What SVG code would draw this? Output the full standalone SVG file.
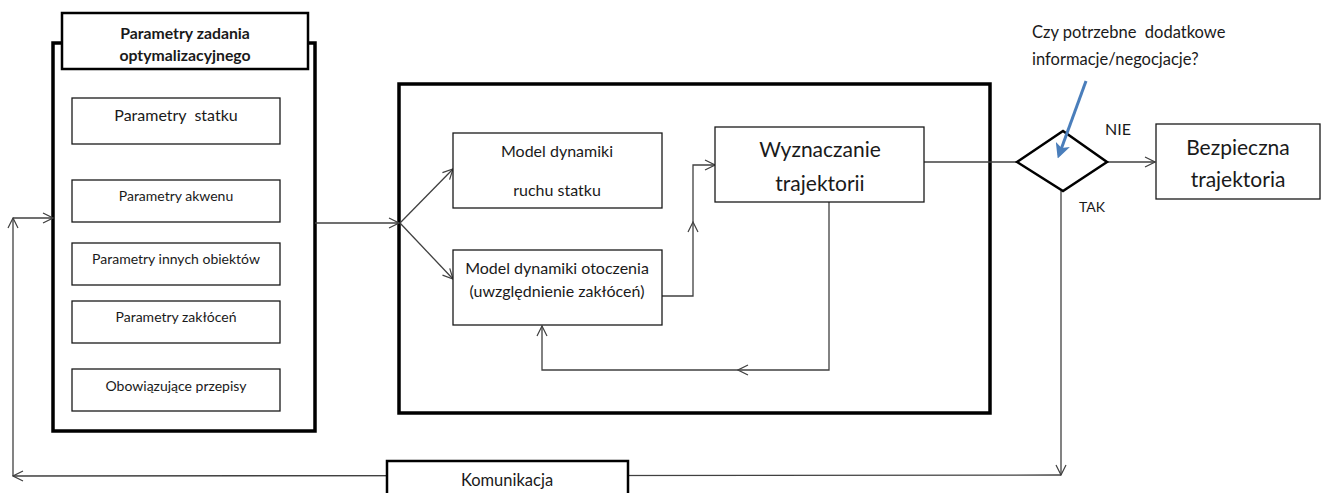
<svg xmlns="http://www.w3.org/2000/svg" width="1321" height="493" viewBox="0 0 1321 493">
<style>
text{font-family:Lato,"Open Sans","Liberation Sans",sans-serif;fill:#1a1a1a;text-anchor:middle;dominant-baseline:central}
.box{fill:#fff;stroke:#1a1a1a;stroke-width:1.3}
.thick{fill:#fff;stroke:#000;stroke-width:3.5}
.mid{fill:#fff;stroke:#000;stroke-width:2.5}
.ln{fill:none;stroke:#404040;stroke-width:1.3}
.s{font-size:14px}
</style>
<defs>
<marker id="ah" viewBox="0 0 12 12" refX="11" refY="6" markerWidth="12" markerHeight="12" markerUnits="userSpaceOnUse" orient="auto">
<path d="M1,1 L11,6 L1,11" fill="none" stroke="#404040" stroke-width="1.2"/>
</marker>
<marker id="blue" viewBox="0 0 12 12" refX="9" refY="6" markerWidth="5" markerHeight="5" orient="auto">
<path d="M0,0 L12,6 L0,12 L3,6 z" fill="#4a7ebb"/>
</marker>
</defs>

<g id="frame-left">
<rect class="thick" x="53" y="43" width="262" height="388"/>
</g>
<g id="frame-mid">
<rect class="thick" x="399" y="84" width="591" height="329"/>
</g>

<g id="connectors">
<polyline class="ln" points="1061,191 1061,475" marker-end="url(#ah)"/>
<polyline class="ln" points="1061,475 13,476" marker-end="url(#ah)"/>
<polyline class="ln" points="13,476 13,218" marker-end="url(#ah)"/>
<polyline class="ln" points="13,218 53,218" marker-end="url(#ah)"/>
<polyline class="ln" points="315,223 399,223" marker-end="url(#ah)"/>
<polyline class="ln" points="400,223 453,169" marker-end="url(#ah)"/>
<polyline class="ln" points="400,223 453,279" marker-end="url(#ah)"/>
<polyline class="ln" points="662,296 693,296 693,222" marker-end="url(#ah)"/>
<polyline class="ln" points="693,222 693,165 715,165" marker-end="url(#ah)"/>
<polyline class="ln" points="829,202 829,370 738,370" marker-end="url(#ah)"/>
<polyline class="ln" points="738,370 542,370 542,326" marker-end="url(#ah)"/>
<polyline class="ln" points="924,162 1017,162"/>
<polyline class="ln" points="1107,162 1155,162" marker-end="url(#ah)"/>
</g>

<g id="header">
<rect class="mid" x="62" y="13" width="246" height="56"/>
<text x="185" y="32" font-size="15.8" font-weight="bold">Parametry zadania</text>
<text x="185" y="54" font-size="15.8" font-weight="bold">optymalizacyjnego</text>
</g>
<g id="p-statku">
<rect class="box" x="72" y="98" width="208" height="46"/>
<text x="176" y="114" font-size="16" xml:space="preserve">Parametry  statku</text>
</g>
<g id="p-akwenu">
<rect class="box" x="72" y="180" width="208" height="42"/>
<text x="176" y="195" class="s">Parametry akwenu</text>
</g>
<g id="p-obiektow">
<rect class="box" x="72" y="243" width="208" height="42"/>
<text x="176" y="258" class="s">Parametry innych obiektów</text>
</g>
<g id="p-zaklocen">
<rect class="box" x="72" y="301" width="208" height="42"/>
<text x="176" y="316" class="s">Parametry zakłóceń</text>
</g>
<g id="p-przepisy">
<rect class="box" x="72" y="369" width="208" height="42"/>
<text x="176" y="385" class="s">Obowiązujące przepisy</text>
</g>

<g id="model-statku">
<rect class="box" x="453" y="133" width="209" height="75"/>
<text x="557" y="150" font-size="16">Model dynamiki</text>
<text x="557" y="189" font-size="16">ruchu statku</text>
</g>
<g id="model-otoczenia">
<rect class="box" x="453" y="250" width="209" height="75"/>
<text x="557" y="267" font-size="16">Model dynamiki otoczenia</text>
<text x="557" y="290" font-size="16">(uwzględnienie zakłóceń)</text>
</g>
<g id="wyznaczanie">
<rect class="box" x="715" y="127" width="209" height="75"/>
<text x="820" y="148" font-size="21">Wyznaczanie</text>
<text x="820" y="182" font-size="21">trajektorii</text>
</g>

<g id="decision">
<polygon points="1017,162 1063,131 1107,162 1063,191" fill="#fff" stroke="#000" stroke-width="2.5"/>
<text x="1118" y="128" font-size="16">NIE</text>
<text x="1092" y="206" font-size="14">TAK</text>
</g>
<g id="question">
<text x="1032" y="32" font-size="16.5" style="text-anchor:start" xml:space="preserve">Czy potrzebne  dodatkowe</text>
<text x="1032" y="59" font-size="16.5" style="text-anchor:start">informacje/negocjacje?</text>
<line x1="1086" y1="81" x2="1059" y2="155" stroke="#4a7ebb" stroke-width="3" marker-end="url(#blue)"/>
</g>
<g id="bezpieczna">
<rect class="box" x="1156" y="124" width="164" height="75"/>
<text x="1238" y="146" font-size="21">Bezpieczna</text>
<text x="1238" y="178" font-size="21">trajektoria</text>
</g>
<g id="komunikacja">
<rect class="mid" x="387" y="461" width="241" height="40"/>
<text x="507" y="480" font-size="16.5">Komunikacja</text>
</g>
</svg>
